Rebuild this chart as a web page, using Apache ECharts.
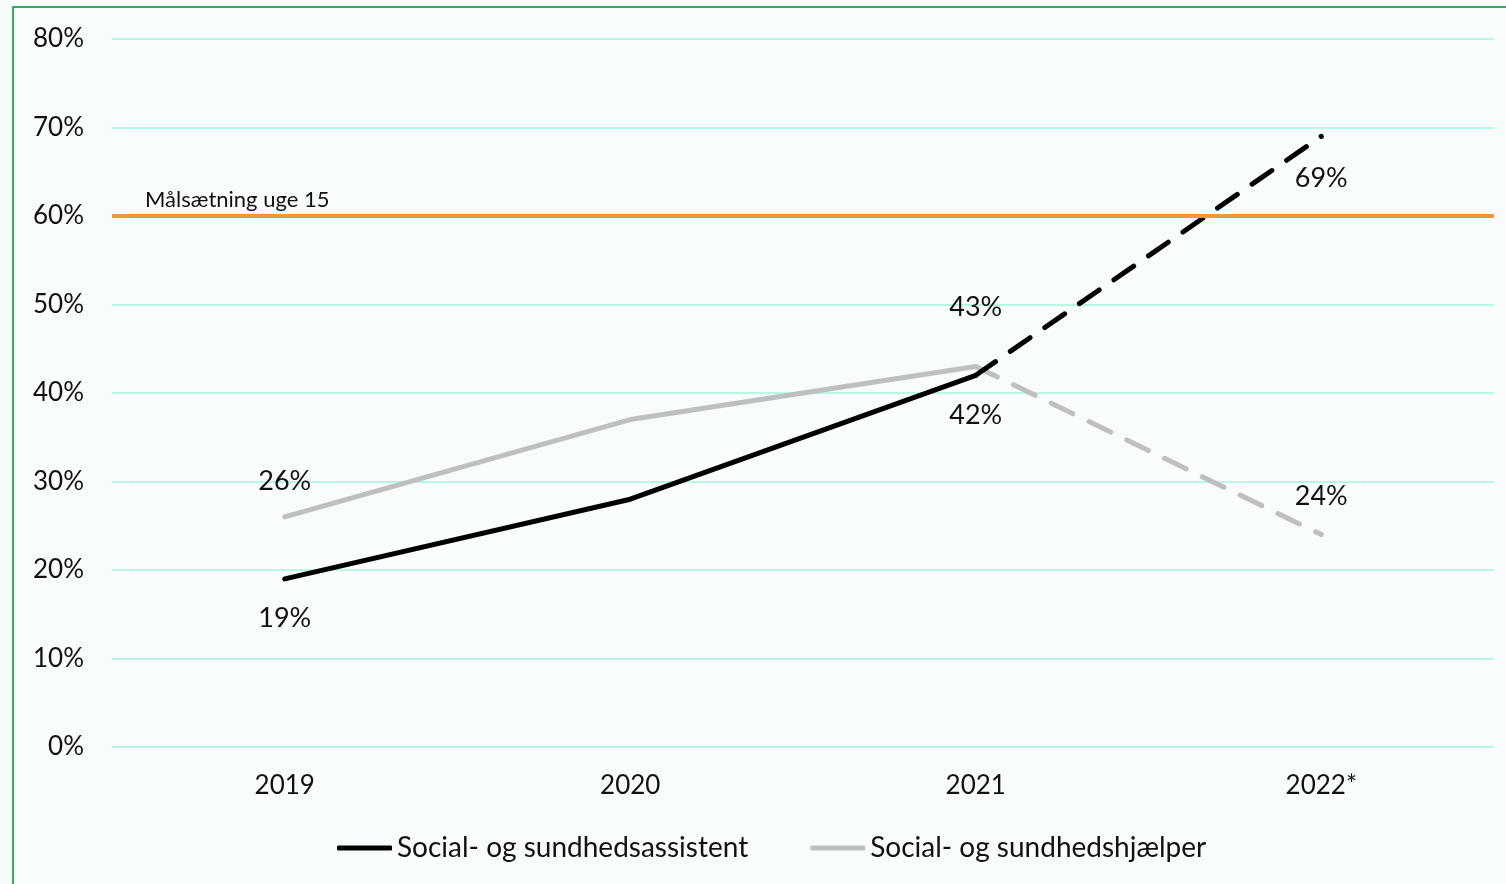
<!DOCTYPE html>
<html>
<head>
<meta charset="utf-8">
<script src="https://cdn.jsdelivr.net/npm/echarts@6/dist/echarts.min.js"></script>
<style>
  html, body { margin: 0; padding: 0; background: #f8fcfc; overflow: hidden; }
  #frame { position: absolute; left: 12px; top: 6px; width: 1700px; height: 1100px;
           border-left: 2px solid #35ad5f; border-top: 2px solid #35ad5f; }
  #chart { position: absolute; left: 0; top: 0; width: 1506px; height: 884px; }
</style>
</head>
<body>
<div id="frame"></div>
<div id="chart"></div>
<script>
// ---- data ----
const years = ['2019', '2020', '2021', '2022*'];
const assistentValues = [19, 28, 42, 69];
const hjaelperValues = [26, 37, 43, 24];
const targetValue = 60;
const targetLabel = 'Målsætning uge 15';
const yTicks = [0, 10, 20, 30, 40, 50, 60, 70, 80];
const seriesNames = ['Social- og sundhedsassistent', 'Social- og sundhedshjælper'];

const FONT = 'Lato';
const FS = 26;

// which points are labelled and where
function buildData(values, fromIdx, toIdx, labelCfg) {
  return values.map((v, i) => {
    if (i < fromIdx || i > toIdx) return null;
    const cfg = labelCfg[i];
    const item = { value: v };
    if (cfg) {
      item.label = { show: true, position: cfg[0], distance: cfg[1] };
    } else {
      item.label = { show: false };
    }
    return item;
  });
}

const assistLabels = { 0: ['bottom', 25], 2: ['bottom', 26] };
const assistDashLabels = { 3: ['bottom', 28] };
const hjaelpLabels = { 0: ['top', 22], 2: ['top', 45] };
const hjaelpDashLabels = { 3: ['top', 24] };

const labelStyle = {
  color: '#111', fontFamily: FONT, fontSize: 27,
  formatter: p => p.value + '%'
};

const chart = echarts.init(document.getElementById('chart'), null, { renderer: 'canvas' });

const option = {
  backgroundColor: 'transparent',
  animation: false,
  textStyle: { fontFamily: FONT },
  grid: { left: 112, right: 12, top: 39, bottom: 137 },
  legend: {
    bottom: 22,
    left: 337,
    padding: 0,
    itemWidth: 55,
    itemHeight: 5,
    itemGap: 62,
    textStyle: { fontFamily: FONT, fontSize: 28, color: '#111' },
    data: [
      { name: seriesNames[0], icon: 'roundRect', itemStyle: { color: '#000' } },
      { name: seriesNames[1], icon: 'roundRect', itemStyle: { color: '#bfbfbf' } }
    ]
  },
  xAxis: {
    type: 'category',
    data: years,
    boundaryGap: true,
    axisLine: { show: false },
    axisTick: { show: false },
    axisLabel: { color: '#111', fontFamily: FONT, fontSize: FS, margin: 26 }
  },
  yAxis: {
    type: 'value',
    min: yTicks[0],
    max: yTicks[yTicks.length - 1],
    interval: 10,
    axisLine: { show: false },
    axisTick: { show: false },
    axisLabel: { color: '#111', fontFamily: FONT, fontSize: FS, margin: 28, formatter: '{value}%' },
    splitLine: { lineStyle: { color: '#b6f7e6', width: 2 } }
  },
  series: [
    {
      name: seriesNames[1], type: 'line',
      data: buildData(hjaelperValues, 0, 2, hjaelpLabels),
      symbol: 'circle', symbolSize: 1, showSymbol: true,
      itemStyle: { color: '#bfbfbf' },
      lineStyle: { color: '#bfbfbf', width: 5, cap: 'round', join: 'round' },
      label: labelStyle, z: 2,
      markLine: {
        silent: true, symbol: 'none',
        lineStyle: { color: '#ee9a38', width: 4, type: 'solid' },
        label: {
          show: true, position: 'insideStartTop', distance: [33, 5],
          formatter: targetLabel, color: '#111', fontFamily: FONT, fontSize: 22
        },
        data: [{ yAxis: targetValue }]
      }
    },
    {
      name: seriesNames[1], type: 'line',
      data: buildData(hjaelperValues, 2, 3, hjaelpDashLabels),
      symbol: 'circle', symbolSize: 1, showSymbol: true,
      itemStyle: { color: '#bfbfbf' },
      lineStyle: { color: '#bfbfbf', width: 5, type: [24, 18], cap: 'round' },
      label: labelStyle, z: 2
    },
    {
      name: seriesNames[0], type: 'line',
      data: buildData(assistentValues, 0, 2, assistLabels),
      symbol: 'circle', symbolSize: 1, showSymbol: true,
      itemStyle: { color: '#000' },
      lineStyle: { color: '#000', width: 5, cap: 'round', join: 'round' },
      label: labelStyle, z: 3
    },
    {
      name: seriesNames[0], type: 'line',
      data: buildData(assistentValues, 2, 3, assistDashLabels),
      symbol: 'circle', symbolSize: 1, showSymbol: true,
      itemStyle: { color: '#000' },
      lineStyle: { color: '#000', width: 5, type: [24, 18], cap: 'round' },
      label: labelStyle, z: 3
    }
  ]
};

chart.setOption(option);
</script>
</body>
</html>
